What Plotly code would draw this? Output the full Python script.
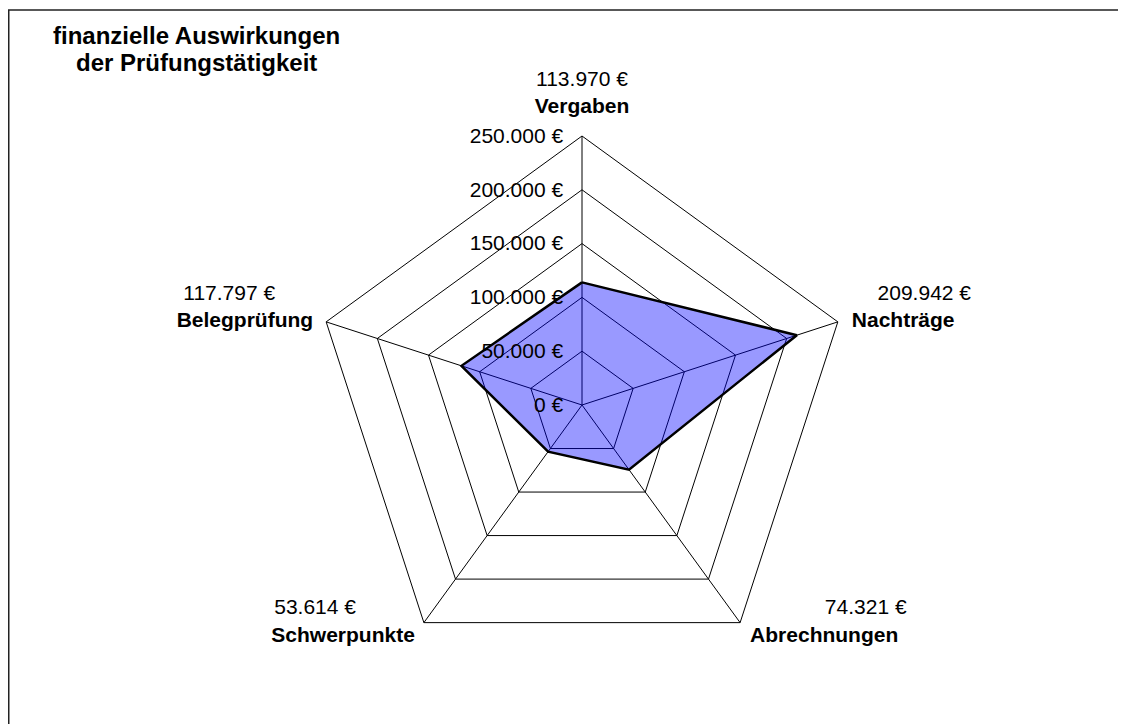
import plotly.graph_objects as go

categories = ["Vergaben", "Nachträge", "Abrechnungen", "Schwerpunkte", "Belegprüfung"]
values = [113970, 209942, 74321, 53614, 117797]
tick_values = [0, 50000, 100000, 150000, 200000, 250000]
title_lines = ["finanzielle Auswirkungen", "der Prüfungstätigkeit"]


def euro(v):
    return f"{v:,}".replace(",", ".") + " €"


tick_text = [euro(v) for v in tick_values]
r_max = tick_values[-1]

W, H = 1126, 724
cx, cy, R = 574, 397, 269  # polar centre / radius in px (page offset of 8px applies)

FONT = "Liberation Sans, Arial, Helvetica, sans-serif"
FS = 21
NB = "\u00a0"

fig = go.Figure()

# data polygon
fig.add_trace(go.Scatterpolar(
    r=values + values[:1],
    theta=categories + categories[:1],
    mode="lines",
    fill="toself",
    fillcolor="rgba(0,0,255,0.4)",
    line=dict(color="black", width=2.5),
    hoverinfo="skip",
    showlegend=False,
))

# label placement styles (per category, same order as categories)
name_pos = ["top center", "middle right", "middle right", "middle left", "middle left"]
name_pad = [26.8, 20.8, 14.4, 12.8, 19.2]          # invisible marker sizes -> text offset
name_extra = ["", "", "above", "above", ""]
value_pos = ["top center", "middle right", "middle right", "middle left", "middle left"]
value_pad = [26.8, 62, 134, 107, 80]
value_extra = [1, 2, 1, 1, 2]                      # blank lines below value text

name_text = []
for cat, extra in zip(categories, name_extra):
    name_text.append((NB + "<br>" if extra == "above" else "") + f"<b>{cat}</b>")
value_text = []
for v, extra in zip(values, value_extra):
    value_text.append(euro(v) + ("<br>" + NB) * extra)

for txt, pos, pad in [(name_text, name_pos, name_pad), (value_text, value_pos, value_pad)]:
    fig.add_trace(go.Scatterpolar(
        r=[r_max] * len(categories),
        theta=categories,
        mode="markers+text",
        text=txt,
        textposition=pos,
        textfont=dict(family=FONT, size=FS, color="black"),
        marker=dict(size=pad, color="rgba(0,0,0,0)", line=dict(width=0)),
        cliponaxis=False,
        hoverinfo="skip",
        showlegend=False,
    ))

fig.update_layout(
    width=W, height=H,
    margin=dict(l=0, r=0, t=0, b=0),
    paper_bgcolor="white",
    plot_bgcolor="white",
    font=dict(family=FONT, size=FS, color="black"),
    polar=dict(
        domain=dict(x=[(cx - R) / W, (cx + R) / W],
                    y=[(H - cy - R) / H, (H - cy + R) / H]),
        bgcolor="white",
        gridshape="linear",
        radialaxis=dict(
            range=[0, r_max],
            tickvals=tick_values,
            ticktext=tick_text,
            angle=90,
            tickangle=90,
            side="counterclockwise",
            showline=False,
            ticks="outside",
            ticklen=11,
            tickcolor="rgba(0,0,0,0)",
            gridcolor="black",
            gridwidth=1,
            tickfont=dict(family=FONT, size=FS, color="black"),
            layer="above traces",
        ),
        angularaxis=dict(
            direction="clockwise",
            rotation=90,
            showline=True,
            linecolor="black",
            linewidth=1,
            gridcolor="black",
            gridwidth=1,
            showticklabels=False,
            ticks="",
        ),
    ),
    annotations=[
        dict(
            text=f"<b>{line}</b>",
            xref="paper", yref="paper",
            x=188 / W, y=1 - yc / H,
            xanchor="center", yanchor="middle",
            showarrow=False,
            font=dict(family=FONT, size=24, color="black"),
        )
        for line, yc in zip(title_lines, [27, 55])
    ],
    shapes=[dict(
        type="rect", xref="paper", yref="paper",
        x0=0.75 / W, x1=2.0, y0=-1.0, y1=1 - 2 / H,
        line=dict(color="#222222", width=1.5),
        fillcolor="rgba(0,0,0,0)",
        layer="below",
    )],
)

fig.write_html("out.html")
